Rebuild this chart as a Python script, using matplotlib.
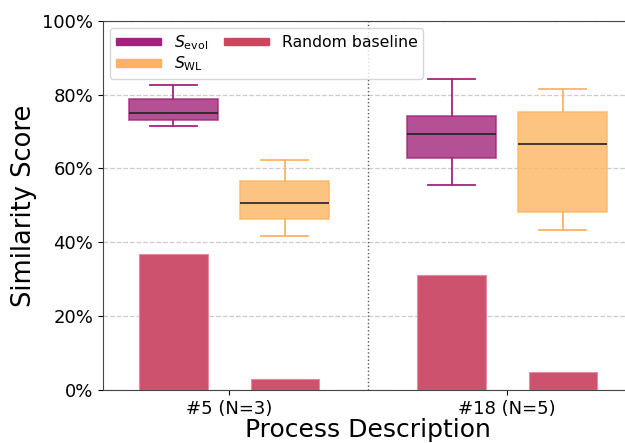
import matplotlib
matplotlib.use("Agg")
import matplotlib.pyplot as plt
from matplotlib.patches import Patch
from matplotlib.ticker import PercentFormatter

# 値は図から読み取ったもの (%)
groups = ["#5 (N=3)", "#18 (N=5)"]
# 箱ひげ: [下ひげ, 第1四分位, 中央値, 第3四分位, 上ひげ]
s_evol = [[71.4, 73.1, 75.0, 78.8, 82.7], [55.6, 62.8, 69.4, 74.3, 84.3]]
s_wl = [[41.8, 46.2, 50.5, 56.5, 62.4], [43.4, 48.2, 66.7, 75.2, 81.4]]
random_evol = [36.9, 31.2]
random_wl = [3.0, 4.7]

c_evol = "#a2247a"
c_wl = "#fdb462"
c_rand = "#cd526d"

fig = plt.figure(figsize=(6.25, 4.43), dpi=100)
ax = fig.add_axes([0.165, 0.12, 0.848, 0.833])

off = 0.2
xs = range(len(groups))

def stats(rows):
    return [dict(whislo=r[0], q1=r[1], med=r[2], q3=r[3], whishi=r[4], fliers=[]) for r in rows]

for data, col, sgn in [(s_evol, c_evol, -1), (s_wl, c_wl, 1)]:
    pos = [x + sgn * off for x in xs]
    ax.bxp(stats(data), positions=pos, widths=0.32, capwidths=0.17, patch_artist=True,
           showfliers=False, manage_ticks=False,
           boxprops=dict(facecolor=col, edgecolor=col, alpha=0.8, linewidth=1.2),
           whiskerprops=dict(color=col, linewidth=1.3),
           capprops=dict(color=col, linewidth=1.3),
           medianprops=dict(color="#222222", linewidth=1.2), zorder=3)

ax.bar([x - off for x in xs], random_evol, width=0.245, color=c_rand, edgecolor="#e88aa0", linewidth=0.8, zorder=3)
ax.bar([x + off for x in xs], random_wl, width=0.245, color=c_rand, edgecolor="#e88aa0", linewidth=0.8, zorder=3)

ax.axvline(0.5, color="#555555", linestyle=":", linewidth=1.0)
ax.set_xlim(-0.453, 1.453)
ax.set_ylim(0, 100)
ax.set_xticks(list(xs))
ax.set_xticklabels(groups, fontsize=13)
ax.set_yticks([0, 20, 40, 60, 80, 100])
ax.yaxis.set_major_formatter(PercentFormatter(decimals=0))
ax.tick_params(axis="y", labelsize=13)
ax.grid(axis="y", linestyle="--", color="#cccccc", linewidth=0.9, zorder=0)
ax.set_axisbelow(True)
for sp in ax.spines.values():
    sp.set_color("#444444")

ax.set_xlabel("Process Description", fontsize=18, labelpad=0)
ax.set_ylabel("Similarity Score", fontsize=18.5)

handles = [Patch(color="#a0237f", label=r"$S_{\mathrm{evol}}$"),
           Patch(color=c_wl, label=r"$S_{\mathrm{WL}}$"),
           Patch(color="#c9475f", label="Random baseline")]
leg = ax.legend(handles=handles, ncol=2, loc="upper left", fontsize=11.3,
                handlelength=2.9, handleheight=0.35, columnspacing=1.0,
                borderaxespad=0.45, labelspacing=0.15, borderpad=0.35)
leg.set_zorder(5)

plt.savefig("out.png", dpi=100)
